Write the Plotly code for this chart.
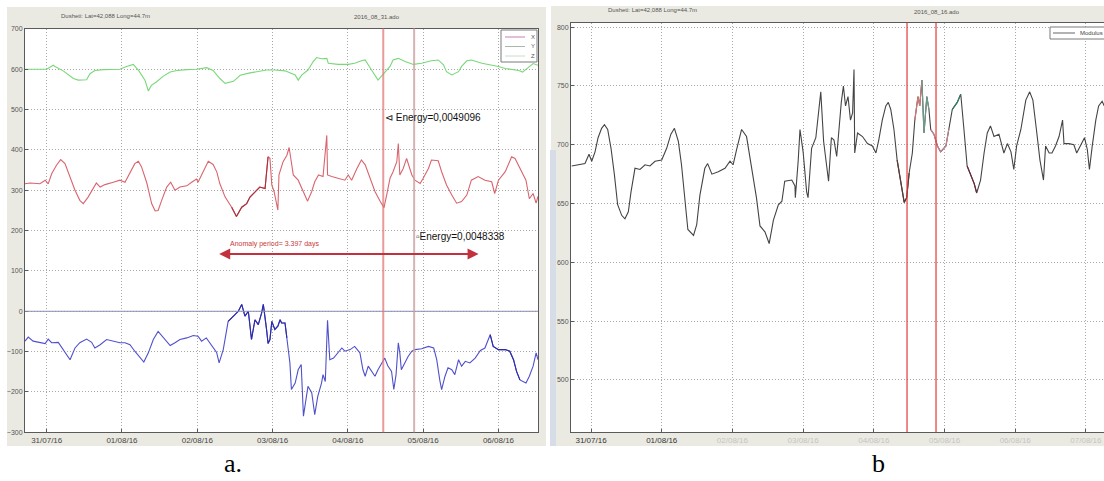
import numpy as np
import pandas as pd
import plotly.graph_objects as go

# ---------------- data (days since 31/07/2016 00:00) ----------------
START_DATE = "2016-07-31"

# Panel a : Y component (green)
y_days = [-0.288, -0.1, 0.0, 0.088, 0.11, 0.22, 0.354, 0.42, 0.53, 0.575, 0.64, 0.75, 0.973, 1.06, 1.15,
          1.22, 1.305, 1.35, 1.39, 1.46, 1.55, 1.64, 1.73, 1.86, 1.99, 2.125, 2.21, 2.30, 2.37, 2.48,
          2.57, 2.70, 2.83, 2.92, 3.03, 3.165, 3.30, 3.34, 3.39, 3.47, 3.54, 3.585, 3.65, 3.72, 3.74,
          3.87, 4.005, 4.09, 4.18, 4.23, 4.27, 4.36, 4.40, 4.47, 4.56, 4.60, 4.67, 4.76, 4.87, 4.98,
          5.11, 5.20, 5.27, 5.31, 5.38, 5.47, 5.51, 5.58, 5.64, 5.78, 5.91, 6.00, 6.09, 6.27, 6.32,
          6.46, 6.525]
y_vals = [600, 600, 600, 610, 607, 596, 577, 573, 574, 589, 597, 599, 600, 607, 612,
          597, 573, 546, 560, 569, 583, 593, 597, 599, 600, 604, 597, 577, 565, 570,
          585, 591, 596, 598, 598, 596, 586, 573, 586, 598, 619, 629, 626, 627, 615,
          612, 612, 615, 621, 623, 611, 586, 573, 588, 607, 623, 627, 619, 612, 615,
          621, 623, 611, 594, 586, 594, 607, 621, 623, 615, 611, 607, 602, 597, 593,
          614, 610]

# Panel a : X component (red)
x_days = [-0.288, -0.22, -0.09, -0.02, 0.02, 0.066, 0.13, 0.186, 0.243, 0.31, 0.376, 0.44, 0.486, 0.55,
          0.62, 0.66, 0.71, 0.774, 0.885, 0.973, 1.04, 1.106, 1.17, 1.217, 1.26, 1.33, 1.394, 1.44,
          1.48, 1.527, 1.594, 1.647, 1.704, 1.77, 1.86, 1.925, 1.99, 2.01, 2.08, 2.146, 2.21, 2.26,
          2.30, 2.37, 2.457, 2.52, 2.59, 2.656, 2.70, 2.766, 2.83, 2.90, 2.94, 2.965, 2.99, 3.02,
          3.07, 3.085, 3.14, 3.19, 3.22, 3.245, 3.275, 3.34, 3.41, 3.465, 3.52, 3.56, 3.61, 3.67,
          3.72, 3.73, 3.785, 3.87, 3.96, 4.005, 4.05, 4.12, 4.18, 4.23, 4.29, 4.36, 4.43, 4.48,
          4.515, 4.56, 4.60, 4.65, 4.67, 4.69, 4.735, 4.78, 4.80, 4.85, 4.89, 4.96, 5.00, 5.07,
          5.11, 5.20, 5.245, 5.31, 5.38, 5.445, 5.51, 5.58, 5.64, 5.73, 5.82, 5.91, 5.95, 6.00,
          6.09, 6.175, 6.22, 6.285, 6.365, 6.41, 6.46, 6.50, 6.525]
x_vals = [316, 318, 316, 325, 316, 341, 362, 376, 366, 333, 300, 275, 267, 283,
          304, 318, 308, 314, 320, 325, 320, 345, 366, 372, 358, 318, 267, 249,
          250, 275, 308, 320, 300, 308, 311, 320, 328, 320, 345, 372, 364, 345,
          316, 283, 258, 235, 258, 267, 283, 296, 308, 304, 383, 379, 313, 297,
          251, 338, 371, 387, 406, 375, 338, 325, 297, 273, 297, 321, 338, 334,
          436, 338, 334, 330, 325, 338, 325, 354, 375, 363, 330, 297, 272, 257,
          288, 330, 346, 371, 416, 338, 354, 379, 367, 338, 325, 317, 330, 354,
          375, 373, 346, 313, 288, 268, 272, 288, 325, 334, 325, 321, 292, 325,
          346, 383, 379, 354, 325, 279, 292, 268, 285]

# Panel a : Z component (blue)
z_days = [-0.288, -0.245, -0.18, -0.09, -0.02, 0.02, 0.066, 0.154, 0.22, 0.31, 0.376, 0.44, 0.53, 0.597,
          0.64, 0.71, 0.796, 0.885, 0.973, 1.04, 1.106, 1.17, 1.24, 1.29, 1.35, 1.416, 1.48, 1.55,
          1.64, 1.704, 1.77, 1.86, 1.947, 2.01, 2.057, 2.12, 2.19, 2.257, 2.29, 2.345, 2.41, 2.48,
          2.545, 2.59, 2.633, 2.678, 2.72, 2.766, 2.81, 2.855, 2.877, 2.92, 2.94, 2.965, 2.99, 3.03,
          3.07, 3.10, 3.12, 3.165, 3.19, 3.23, 3.25, 3.30, 3.34, 3.38, 3.41, 3.44, 3.47, 3.52,
          3.56, 3.60, 3.65, 3.67, 3.70, 3.73, 3.76, 3.81, 3.85, 3.92, 3.96, 4.03, 4.09, 4.16,
          4.20, 4.23, 4.27, 4.32, 4.36, 4.40, 4.45, 4.49, 4.53, 4.58, 4.61, 4.64, 4.67, 4.69,
          4.71, 4.76, 4.80, 4.85, 4.89, 4.98, 5.07, 5.14, 5.18, 5.22, 5.245, 5.29, 5.33, 5.38,
          5.42, 5.47, 5.51, 5.56, 5.62, 5.69, 5.76, 5.82, 5.89, 5.93, 6.00, 6.09, 6.15, 6.20,
          6.24, 6.285, 6.365, 6.41, 6.46, 6.50, 6.525]
z_vals = [-74, -64, -74, -78, -80, -69, -78, -77, -95, -120, -91, -78, -69, -77,
          -91, -83, -70, -74, -78, -78, -83, -99, -116, -126, -103, -70, -50, -66,
          -85, -78, -70, -66, -60, -62, -74, -66, -83, -102, -128, -95, -25, -12,
          0, 17, -12, 0, -70, -21, -33, -4, 17, -45, -80, -70, -25, -45,
          -37, -21, -29, -29, -66, -128, -194, -178, -145, -132, -260, -219, -186, -202,
          -256, -211, -178, -157, -174, -22, -120, -116, -107, -91, -99, -95, -87, -103,
          -145, -161, -136, -149, -161, -145, -128, -116, -135, -149, -194, -157, -78, -103,
          -145, -128, -112, -99, -95, -93, -87, -91, -120, -170, -194, -161, -140, -145,
          -157, -120, -136, -124, -128, -116, -97, -91, -58, -87, -95, -95, -99, -120,
          -149, -170, -178, -161, -136, -103, -120]

# Panel b : modulus
m_days = [-0.273, -0.18, -0.085, -0.028, 0.01, 0.057, 0.10, 0.15, 0.19, 0.236, 0.283, 0.33, 0.377, 0.434,
          0.48, 0.528, 0.566, 0.622, 0.693, 0.764, 0.834, 0.905, 1.0, 1.07, 1.13, 1.18, 1.235, 1.28,
          1.33, 1.37, 1.45, 1.495, 1.54, 1.61, 1.65, 1.71, 1.80, 1.895, 1.966, 2.01, 2.06, 2.13,
          2.20, 2.27, 2.34, 2.39, 2.46, 2.52, 2.58, 2.65, 2.70, 2.74, 2.84, 2.885, 2.89, 2.93,
          2.956, 3.00, 3.05, 3.07, 3.12, 3.18, 3.215, 3.25, 3.29, 3.36, 3.40, 3.437, 3.475, 3.51,
          3.54, 3.57, 3.60, 3.635, 3.67, 3.70, 3.72, 3.73, 3.77, 3.84, 3.91, 3.98, 4.03, 4.07,
          4.12, 4.17, 4.205, 4.24, 4.285, 4.33, 4.38, 4.43, 4.465, 4.50, 4.545, 4.58, 4.625, 4.65,
          4.68, 4.71, 4.75, 4.78, 4.805, 4.85, 4.90, 4.945, 5.02, 5.06, 5.11, 5.18, 5.23, 5.275,
          5.32, 5.38, 5.42, 5.455, 5.51, 5.56, 5.605, 5.65, 5.70, 5.77, 5.84, 5.89, 5.94, 5.98,
          6.02, 6.08, 6.15, 6.205, 6.25, 6.30, 6.35, 6.40, 6.43, 6.48, 6.52, 6.57, 6.62, 6.67,
          6.69, 6.76, 6.83, 6.87, 6.93, 6.98, 7.02, 7.05, 7.09, 7.14, 7.18, 7.23, 7.26]
m_vals = [682, 683, 684, 692, 686, 694, 706, 714, 717, 713, 697, 675, 649, 640,
          637, 643, 660, 680, 679, 683, 682, 686, 687, 697, 709, 714, 703, 683,
          649, 628, 623, 632, 657, 680, 684, 675, 677, 680, 686, 683, 696, 713,
          707, 680, 655, 631, 626, 616, 636, 649, 652, 669, 670, 665, 655, 686,
          713, 694, 660, 655, 697, 706, 727, 745, 703, 669, 706, 704, 690, 716,
          736, 750, 733, 741, 721, 727, 764, 693, 710, 707, 701, 699, 693, 704,
          721, 733, 736, 730, 713, 687, 667, 651, 655, 676, 693, 721, 741, 733,
          755, 710, 741, 730, 713, 709, 699, 694, 699, 713, 730, 736, 743, 713,
          682, 673, 667, 659, 670, 693, 710, 716, 707, 709, 693, 701, 694, 679,
          699, 713, 738, 745, 738, 713, 687, 670, 699, 693, 693, 699, 707, 721,
          701, 701, 700, 693, 700, 706, 696, 679, 699, 721, 733, 737, 733]

event_days = [4.47, 4.88]
anomaly_days = [2.271, 5.736]
anomaly_level = 142
energy_labels = ["Energy=0,0049096", "Energy=0,0048338"]
energy_levels = [481, 186]
anomaly_label = "Anomaly period= 3.397 days"
legend_a_names = ["X", "Y", "Z"]
legend_b_names = ["Modulus"]
a_yticks = [-300, -200, -100, 0, 100, 200, 300, 400, 500, 600, 700]
b_yticks = [500, 550, 600, 650, 700, 750, 800]
a_range_days = [-0.288, 6.525]
b_range_days = [-0.283, 7.256]

# ---------------- helpers ----------------
T0 = pd.Timestamp(START_DATE)


def to_t(d):
    return T0 + pd.to_timedelta(np.asarray(d, dtype=float), unit="D")


def t_str(d):
    return (T0 + pd.Timedelta(days=float(d))).strftime("%Y-%m-%d %H:%M:%S")


def subset(days, vals, lo, hi):
    d = np.asarray(days)
    v = np.asarray(vals)
    m = (d >= lo) & (d <= hi)
    return to_t(d[m]), v[m]


W, H = 1104, 481
FONT = "Liberation Sans"
COL_X, COL_Y, COL_Z, COL_M = "#d9646e", "#79d879", "#5050cc", "#444444"

fig = go.Figure()

# panel a traces
for name, days, vals, col in [(legend_a_names[0], x_days, x_vals, COL_X),
                              (legend_a_names[1], y_days, y_vals, COL_Y),
                              (legend_a_names[2], z_days, z_vals, COL_Z)]:
    fig.add_trace(go.Scatter(x=to_t(days), y=vals, mode="lines", name=name, showlegend=False,
                             line=dict(color=col, width=1.1), xaxis="x", yaxis="y"))
# darker portions
for lo, hi, days, vals, col in [(2.40, 2.94, x_days, x_vals, "#a8303e"),
                                (2.40, 3.20, z_days, z_vals, "#2c2ca8"),
                                (5.85, 6.30, z_days, z_vals, "#2c2ca8")]:
    sx, sy = subset(days, vals, lo, hi)
    fig.add_trace(go.Scatter(x=sx, y=sy, mode="lines", showlegend=False,
                             line=dict(color=col, width=1.1), xaxis="x", yaxis="y"))

# panel b traces
fig.add_trace(go.Scatter(x=to_t(m_days), y=m_vals, mode="lines", name=legend_b_names[0], showlegend=False,
                         line=dict(color=COL_M, width=1.1), xaxis="x2", yaxis="y2"))
for lo, hi, col in [(4.33, 4.50, "#5a3a32"), (4.58, 4.68, "#d07a7a"), (4.68, 4.78, "#6f9a8c"),
                    (4.80, 5.06, "#c58290"), (5.11, 5.23, "#2f7f5f"), (5.32, 5.46, "#6a2a3a")]:
    sx, sy = subset(m_days, m_vals, lo, hi)
    fig.add_trace(go.Scatter(x=sx, y=sy, mode="lines", showlegend=False,
                             line=dict(color=col, width=1.2), xaxis="x2", yaxis="y2"))

# ---------------- frames ----------------
shapes = []
FRAME = "#ebeae2"
shapes.append(dict(type="rect", xref="paper", yref="paper", layer="below",
                   x0=7 / W, x1=546 / W, y0=1 - 446 / H, y1=1 - 7 / H, fillcolor=FRAME, line=dict(width=0)))
shapes.append(dict(type="rect", xref="paper", yref="paper", layer="below",
                   x0=25 / W, x1=538 / W, y0=1 - 432.3 / H, y1=1 - 28.5 / H, fillcolor="white", line=dict(width=0)))
shapes.append(dict(type="rect", xref="paper", yref="paper", layer="below",
                   x0=551 / W, x1=1.0, y0=1 - 446 / H, y1=1 - 6 / H, fillcolor=FRAME, line=dict(width=0)))
shapes.append(dict(type="rect", xref="paper", yref="paper", layer="below",
                   x0=550 / W, x1=556 / W, y0=1 - 446 / H, y1=1 - 150 / H, fillcolor="#d6dde6", line=dict(width=0)))
shapes.append(dict(type="rect", xref="paper", yref="paper", layer="below",
                   x0=571 / W, x1=1.0, y0=1 - 432.3 / H, y1=1 - 22.7 / H, fillcolor="white", line=dict(width=0)))

# zero line panel a
shapes.append(dict(type="line", xref="x domain", yref="y", x0=0, x1=1, y0=0, y1=0,
                   line=dict(color="#8c8cb4", width=1)))

# event lines
for d, col in zip(event_days, ["rgba(226,120,120,0.75)", "rgba(205,160,160,0.8)"]):
    shapes.append(dict(type="line", xref="x", yref="y domain", x0=t_str(d), x1=t_str(d), y0=0, y1=1,
                       line=dict(color=col, width=2)))
for d in event_days:
    shapes.append(dict(type="line", xref="x2", yref="y2 domain", x0=t_str(d), x1=t_str(d), y0=0, y1=1,
                       line=dict(color="#e23a3a", width=1.2)))

ann = []

# custom legends (drawn small, like the MATLAB legend boxes)
shapes.append(dict(type="rect", xref="paper", yref="paper", x0=501 / W, x1=537 / W,
                   y0=1 - 62 / H, y1=1 - 30 / H, fillcolor="white", line=dict(color="#7a7a7a", width=1)))
for i, (name, col) in enumerate(zip(legend_a_names, ["#c97fb0", "#a9b8a9", "#c9dcc9"])):
    yy = 1 - (37 + 9.5 * i) / H
    shapes.append(dict(type="line", xref="paper", yref="paper", x0=505 / W, x1=525 / W, y0=yy, y1=yy,
                       line=dict(color=col, width=1)))
    ann.append(dict(xref="paper", yref="paper", x=529 / W, y=yy, xanchor="left", yanchor="middle",
                    showarrow=False, text=name, font=dict(family=FONT, size=6, color="#555")))
shapes.append(dict(type="rect", xref="paper", yref="paper", x0=1050 / W, x1=1.0 + 2 / W,
                   y0=1 - 39 / H, y1=1 - 27 / H, fillcolor="white", line=dict(color="#7a7a7a", width=1)))
shapes.append(dict(type="line", xref="paper", yref="paper", x0=1053 / W, x1=1075 / W,
                   y0=1 - 33 / H, y1=1 - 33 / H, line=dict(color="#666", width=1)))
ann.append(dict(xref="paper", yref="paper", x=1078 / W, y=1 - 33 / H, xanchor="left", yanchor="middle",
                showarrow=False, text=legend_b_names[0], font=dict(family=FONT, size=6, color="#444")))

# ---------------- annotations ----------------
ann.append(dict(xref="x", yref="y", x=t_str(event_days[0]), y=energy_levels[0], xanchor="left",
                yanchor="middle", showarrow=False, text="⊲ " + energy_labels[0],
                font=dict(family=FONT, size=10, color="#111")))
ann.append(dict(xref="x", yref="y", x=t_str(event_days[1]), y=energy_levels[1], xanchor="left",
                yanchor="middle", showarrow=False, text="▫" + energy_labels[1],
                font=dict(family=FONT, size=10, color="#111")))
ann.append(dict(xref="x", yref="y", x=t_str(anomaly_days[1]), y=anomaly_level,
                ax=t_str(anomaly_days[0]), ay=anomaly_level, axref="x", ayref="y",
                showarrow=True, arrowside="end+start", arrowhead=2, arrowsize=1.1,
                arrowwidth=2, arrowcolor="#c3313c", text=""))
ann.append(dict(xref="x", yref="y", x=t_str(anomaly_days[0] + 0.14), y=anomaly_level + 24,
                xanchor="left", yanchor="middle", showarrow=False, text=anomaly_label,
                font=dict(family=FONT, size=7, color="#c83a3a")))
for x, y, t in [(59, 16, "Dusheti: Lat=42,088 Long=44.7m"), (352, 17, "2016_08_31.ado"),
                (606, 10, "Dusheti: Lat=42,088 Long=44.7m"), (912, 12, "2016_08_16.ado")]:
    ann.append(dict(xref="paper", yref="paper", x=x / W, y=1 - y / H, xanchor="left", yanchor="middle",
                    showarrow=False, text=t, font=dict(family=FONT, size=6, color="#555")))
for x, t in [(233, "a."), (878, "b")]:
    ann.append(dict(xref="paper", yref="paper", x=x / W, y=1 - 463 / H, xanchor="center",
                    yanchor="middle", showarrow=False, text=t,
                    font=dict(family="Liberation Serif", size=26, color="#000")))

# panel b tick labels: first two dark, rest faded
b_tickdays = list(range(0, 8))
b_tickvals = [t_str(d) for d in b_tickdays]
b_ticktext = []
for i, d in enumerate(b_tickdays):
    lab = (T0 + pd.Timedelta(days=d)).strftime("%d/%m/%y")
    col = "#333" if i < 2 else "#c4c4c4"
    b_ticktext.append(f'<span style="color:{col}">{lab}</span>')

GRID = dict(showgrid=True, gridcolor="#a8a8a8", griddash="1px,2px", gridwidth=1)
AX = dict(showline=True, linecolor="#5a5a5a", linewidth=1, mirror=True, ticks="inside",
          ticklen=3, tickcolor="#5a5a5a", zeroline=False)

fig.update_layout(
    width=W, height=H,
    margin=dict(l=0, r=0, t=0, b=0, autoexpand=False),
    paper_bgcolor="white", plot_bgcolor="white",
    font=dict(family=FONT),
    showlegend=False,
    shapes=shapes,
    annotations=ann,
    xaxis=dict(domain=[25 / W, 538 / W], anchor="y", type="date",
               range=[t_str(a_range_days[0]), t_str(a_range_days[1])],
               tick0=START_DATE, dtick=86400000, tickformat="%d/%m/%y",
               tickfont=dict(size=8, color="#444"), **GRID, **AX),
    yaxis=dict(domain=[1 - 432.3 / H, 1 - 28.5 / H], anchor="x", range=[-300, 701],
               tickvals=a_yticks, tickfont=dict(size=7, color="#555"), **GRID, **AX),
    xaxis2=dict(domain=[571 / W, 1.0], anchor="y2", type="date",
                range=[t_str(b_range_days[0]), t_str(b_range_days[1])],
                tickvals=b_tickvals, ticktext=b_ticktext,
                tickfont=dict(size=8, color="#444"), **GRID, **AX),
    yaxis2=dict(domain=[1 - 432.3 / H, 1 - 22.7 / H], anchor="x2", range=[455.5, 803.8],
                tickvals=b_yticks, tickfont=dict(size=7, color="#555"), **GRID, **AX),
)

fig.write_html("out.html")
